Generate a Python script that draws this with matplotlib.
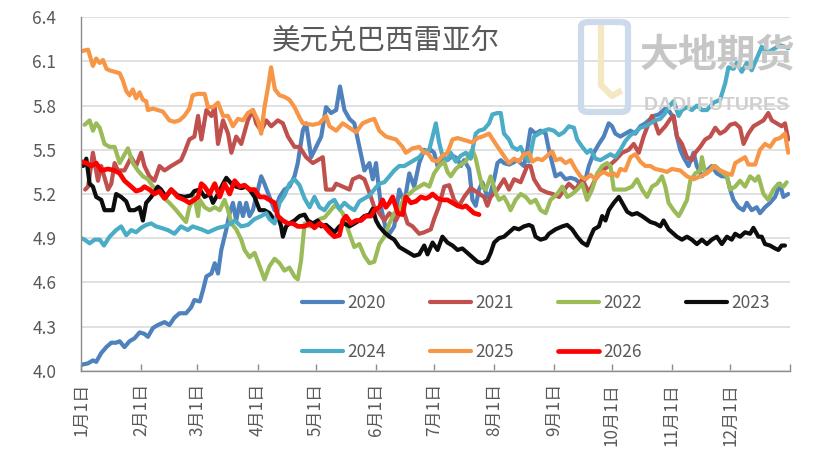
import matplotlib
matplotlib.use("Agg")
import matplotlib.pyplot as plt
from matplotlib.lines import Line2D
from matplotlib.patches import FancyBboxPatch

plt.rcParams['font.family'] = ['Noto Sans CJK SC', 'DejaVu Sans']

# ---------------- data (day of year, USD/BRL) ----------------
years = ['2020', '2021', '2022', '2023', '2024', '2025', '2026']
colors = ['#4F81BD', '#C0504D', '#9BBB59', '#0D0D0D', '#4BACC6', '#F79646', '#FF0000']

d2020 = [0, 3.5, 6, 7.7, 10.3, 12.9, 15.5, 18, 19.8, 22.3, 24.9, 27.5, 30.1, 32.6, 34.4, 37, 39.5, 43, 45.5, 48.1,
         50.7, 54.1, 56.7, 58.4, 61.2, 62.9, 64.6, 67.2, 68.9, 70.6, 72.3, 74.9, 76.6, 78.3, 80, 81.8, 83.5, 85.2,
         86.9, 88.6, 90.3, 92.9, 94.6, 97.2, 99.8, 102.4, 104.9, 107.5, 110.1, 111.8, 114.4, 116.1, 118.7, 121.3,
         123.9, 126.4, 129, 131.6, 133.6, 135.9, 138.5, 141, 143.6, 146.2, 148.8, 150.5, 152.2, 154.8, 157.3, 159.1,
         161.6, 164.2, 166.8, 169.4, 171.9, 174.5, 177.1, 178.8, 180.5, 182.2, 184, 186.5, 189.1, 191.7, 194.3, 196,
         197.7, 200.3, 202, 203.7, 205.4, 207.1, 209.7, 211.4, 213.2, 214.9, 216.6, 218.3, 220.9, 222.6, 225.2,
         228.6, 230.3, 232, 234.6, 237.2, 239.8, 241.5, 243.2, 244.9, 247.5, 250.1, 252.7, 255.2, 257.8, 260.4,
         262.1, 264.7, 267.3, 269.8, 272.4, 274.1, 275.8, 278.4, 281, 283.6, 286.1, 288.7, 291.3, 295.6, 298.2,
         300.7, 302.5, 304.2, 305.9, 307.6, 309.3, 311, 313.6, 316.2, 317.9, 320.5, 323.1, 325.6, 328.2, 330.8,
         333.4, 335.1, 336.8, 339.4, 341.9, 343.7, 346.2, 348.8, 350.5, 353.1, 355.7, 358.3, 360.8, 362.6, 365.1]
v2020 = [4.04, 4.05, 4.07, 4.06, 4.12, 4.16, 4.19, 4.19, 4.20, 4.16, 4.20, 4.22, 4.26, 4.25, 4.23, 4.29, 4.31, 4.33,
         4.31, 4.36, 4.39, 4.39, 4.43, 4.48, 4.47, 4.55, 4.64, 4.66, 4.73, 4.66, 4.82, 4.96, 5.07, 5.14, 5.02, 5.14,
         5.05, 5.14, 5.05, 5.09, 5.18, 5.32, 5.27, 5.18, 5.09, 5.18, 5.23, 5.25, 5.32, 5.41, 5.63, 5.68, 5.45, 5.52,
         5.59, 5.79, 5.75, 5.77, 5.93, 5.77, 5.71, 5.68, 5.52, 5.36, 5.41, 5.30, 5.41, 5.11, 4.96, 4.93, 4.98, 5.23,
         5.14, 5.34, 5.25, 5.41, 5.50, 5.48, 5.50, 5.48, 5.39, 5.44, 5.43, 5.46, 5.44, 5.39, 5.43, 5.37, 5.16, 5.12,
         5.23, 5.28, 5.18, 5.21, 5.30, 5.41, 5.43, 5.41, 5.40, 5.41, 5.43, 5.39, 5.50, 5.64, 5.61, 5.63, 5.61, 5.50,
         5.41, 5.32, 5.34, 5.30, 5.31, 5.30, 5.27, 5.30, 5.39, 5.48, 5.54, 5.59, 5.68, 5.66, 5.61, 5.59, 5.61, 5.63,
         5.61, 5.66, 5.68, 5.73, 5.74, 5.77, 5.79, 5.75, 5.72, 5.59, 5.50, 5.45, 5.39, 5.48, 5.39, 5.32, 5.36, 5.39,
         5.34, 5.32, 5.32, 5.23, 5.16, 5.11, 5.09, 5.14, 5.09, 5.11, 5.07, 5.11, 5.14, 5.18, 5.27, 5.18, 5.20]

d2021 = [2, 3.5, 6, 8.6, 10.3, 13.8, 15.5, 17.2, 18.9, 22.3, 25.8, 28.3, 30.9, 32.6, 35.2, 37.8, 40.4, 43, 46.4, 49,
         51.5, 53.2, 55.8, 58.4, 60.3, 62, 64.6, 67.2, 68.9, 70.6, 73.2, 75.8, 77.5, 80, 82.6, 86, 88.6, 90.3, 92.9,
         95.5, 98.1, 101.5, 104.1, 106.7, 110.1, 112.7, 116.1, 119.6, 122.1, 124.7, 126.4, 129.9, 131.6, 135, 138.5,
         140.2, 143.6, 146.2, 148.8, 151.3, 153.9, 156.5, 159.1, 162.5, 165.9, 168.5, 171.1, 174.5, 177.1, 180.5,
         182.2, 184.8, 187.4, 190, 192.5, 195.1, 197.7, 201.1, 204.6, 208, 209.7, 211.4, 214.9, 218.3, 220.9, 223.5,
         226.9, 230.3, 232, 233.8, 237.2, 240.6, 243.5, 246.7, 251.8, 255.2, 258.7, 262.1, 265.5, 269, 272.4, 275.8,
         279.3, 282.7, 285.3, 287.9, 290.4, 293, 294.7, 296.4, 298.2, 301.6, 304.2, 305.9, 307.6, 310.2, 312.8,
         315.3, 317.1, 319.6, 322.2, 324.8, 327.4, 329.9, 332.5, 335.1, 337.7, 340.2, 342, 344.5, 347.1, 349.7,
         352.3, 354.8, 356.6, 359.1, 361.7, 363.4, 365.1]
v2021 = [5.23, 5.25, 5.48, 5.29, 5.39, 5.23, 5.27, 5.41, 5.36, 5.36, 5.45, 5.39, 5.48, 5.39, 5.32, 5.29, 5.39, 5.36,
         5.39, 5.41, 5.43, 5.48, 5.57, 5.59, 5.73, 5.57, 5.77, 5.73, 5.79, 5.54, 5.70, 5.61, 5.48, 5.59, 5.54, 5.70,
         5.77, 5.68, 5.63, 5.70, 5.66, 5.70, 5.68, 5.59, 5.52, 5.52, 5.45, 5.41, 5.43, 5.45, 5.23, 5.23, 5.27, 5.25,
         5.23, 5.30, 5.32, 5.30, 5.21, 5.11, 5.07, 5.02, 5.07, 5.02, 5.11, 5.00, 4.98, 4.93, 4.94, 4.96, 5.03, 5.12,
         5.25, 5.26, 5.16, 5.12, 5.18, 5.24, 5.21, 5.18, 5.12, 5.18, 5.23, 5.30, 5.23, 5.30, 5.28, 5.39, 5.39, 5.30,
         5.23, 5.21, 5.20, 5.18, 5.27, 5.23, 5.30, 5.21, 5.30, 5.36, 5.39, 5.43, 5.48, 5.50, 5.54, 5.48, 5.59, 5.68,
         5.73, 5.68, 5.61, 5.66, 5.71, 5.73, 5.59, 5.54, 5.45, 5.43, 5.48, 5.52, 5.57, 5.59, 5.65, 5.61, 5.63, 5.67,
         5.68, 5.65, 5.54, 5.61, 5.66, 5.68, 5.70, 5.75, 5.70, 5.68, 5.66, 5.68, 5.57]

d2022 = [1.7, 4.3, 6, 7.7, 9.5, 12, 14.6, 17.2, 19.8, 21.5, 24.1, 26.6, 29.2, 31.8, 34.4, 37, 39.5, 42.1, 45.5, 49,
         51.5, 54.1, 55.8, 58.4, 60.3, 61.2, 63.7, 66.3, 68.9, 71.5, 74, 75.8, 77.5, 80, 82.6, 84.3, 86.9, 89.5, 92.1,
         94.6, 97.2, 99.8, 102.4, 104.9, 107.5, 110.1, 111.8, 113.5, 115.3, 117.9, 120.4, 123, 125.6, 128.2, 130.7,
         132.5, 135, 138.5, 141, 143.6, 146.2, 148.8, 151.3, 153.9, 156.5, 159.1, 161.6, 164.2, 166.8, 169.4, 171.9,
         174.5, 177.1, 179.7, 182.2, 184.8, 187.4, 189.1, 190.8, 193.4, 196, 198.6, 200.3, 202, 203.7, 205.4, 207.1,
         208.9, 211.4, 214, 215.7, 218.3, 220, 221.7, 224.3, 226.9, 229.5, 232, 234.6, 237.2, 239.8, 242.3, 245.8,
         248.4, 251, 253.5, 256.1, 258.7, 261.2, 263.8, 266.4, 269, 271.5, 273.3, 275, 277.6, 281, 284.4, 287, 289.6,
         292.2, 294.7, 297.3, 299.9, 301.6, 303.3, 305.9, 308.5, 310.2, 312.8, 314.5, 317.1, 319.6, 320.5, 322.2,
         324.8, 327.4, 329.9, 333.4, 335.1, 337.7, 340.2, 342.8, 345.4, 348, 349.7, 352.3, 354.8, 357.4, 360, 362.6,
         364.3]
v2022 = [5.67, 5.70, 5.63, 5.68, 5.65, 5.54, 5.52, 5.52, 5.41, 5.45, 5.51, 5.41, 5.36, 5.32, 5.30, 5.25, 5.23, 5.18,
         5.14, 5.09, 5.05, 5.01, 5.11, 5.18, 5.05, 5.16, 5.11, 5.09, 5.11, 5.09, 5.16, 5.09, 5.00, 4.96, 4.89, 4.82,
         4.77, 4.80, 4.71, 4.62, 4.71, 4.76, 4.73, 4.68, 4.70, 4.64, 4.62, 4.75, 5.00, 4.98, 5.00, 5.03, 5.04, 5.08,
         5.12, 5.11, 5.07, 4.93, 4.84, 4.86, 4.78, 4.73, 4.74, 4.86, 4.91, 5.00, 5.07, 5.09, 5.18, 5.20, 5.23, 5.25,
         5.27, 5.25, 5.34, 5.39, 5.42, 5.35, 5.32, 5.37, 5.40, 5.42, 5.47, 5.50, 5.44, 5.34, 5.25, 5.23, 5.32, 5.21,
         5.16, 5.18, 5.14, 5.09, 5.16, 5.20, 5.18, 5.14, 5.16, 5.09, 5.07, 5.16, 5.20, 5.25, 5.18, 5.20, 5.23, 5.27,
         5.16, 5.23, 5.34, 5.39, 5.41, 5.39, 5.23, 5.23, 5.23, 5.25, 5.30, 5.23, 5.18, 5.25, 5.27, 5.32, 5.25, 5.14,
         5.09, 5.05, 5.09, 5.16, 5.29, 5.34, 5.36, 5.45, 5.34, 5.36, 5.39, 5.36, 5.32, 5.23, 5.25, 5.29, 5.25, 5.32,
         5.29, 5.32, 5.20, 5.16, 5.23, 5.27, 5.25, 5.28]

d2023 = [0.9, 2.6, 4.3, 6, 7.7, 10.3, 12, 14.6, 16.3, 18, 20.6, 23.2, 24.9, 27.5, 30.1, 31.8, 33.5, 36.1, 39.5, 41.2,
         43.8, 46.4, 49.8, 53.2, 56.7, 58.4, 61.2, 63.7, 66.3, 68, 70.6, 73.2, 74.9, 77.5, 80, 82.6, 85.2, 86.9, 89.5,
         92.1, 94.6, 97.2, 99.8, 101.5, 103.2, 104.1, 105.8, 107.5, 110.1, 112.7, 115.3, 117, 119.6, 122.1, 123.9,
         126.4, 128.2, 130.7, 133.3, 135.9, 138.5, 141, 143.6, 146.2, 148.8, 150.5, 152.2, 153.9, 156.5, 159.1,
         161.6, 164.2, 166.8, 169.4, 171.9, 174.5, 177.1, 178.8, 181.4, 184, 186.5, 189.1, 191.7, 194.3, 196.8,
         199.4, 202, 204.6, 207.1, 209.7, 211.4, 213.2, 215.7, 218.3, 220.9, 223.5, 226, 228.6, 231.2, 232.9, 234.6,
         237.2, 239.8, 241.5, 244.9, 248.4, 250.9, 253.5, 256.1, 258.7, 261.2, 263, 264.7, 267.3, 269, 270.7, 272.4,
         275, 277.6, 279.3, 281.9, 284.4, 287, 289.6, 293.9, 296.4, 299, 300.7, 303.3, 305.9, 307.6, 310.2, 312.8,
         315.3, 317.9, 320.5, 323.1, 325.6, 328.2, 330.8, 333.4, 335.9, 337.7, 340.2, 342.8, 345.4, 347.1, 349.7,
         351.4, 353.1, 355.7, 358.3, 360, 361.7, 363.4]
v2023 = [5.39, 5.44, 5.27, 5.25, 5.18, 5.16, 5.09, 5.09, 5.09, 5.20, 5.18, 5.15, 5.09, 5.09, 5.11, 5.02, 5.14, 5.18,
         5.25, 5.23, 5.18, 5.23, 5.19, 5.18, 5.19, 5.22, 5.23, 5.18, 5.20, 5.14, 5.20, 5.27, 5.31, 5.27, 5.25, 5.24,
         5.25, 5.23, 5.18, 5.09, 5.09, 5.07, 5.02, 5.05, 4.98, 4.91, 4.98, 5.00, 5.02, 5.05, 5.06, 5.02, 5.00, 5.02,
         4.98, 4.99, 4.97, 4.94, 4.98, 5.00, 4.98, 5.00, 5.02, 5.05, 5.06, 5.10, 5.02, 4.98, 4.94, 4.91, 4.89, 4.84,
         4.82, 4.80, 4.78, 4.79, 4.85, 4.79, 4.87, 4.82, 4.91, 4.87, 4.85, 4.82, 4.83, 4.80, 4.77, 4.74, 4.73, 4.75,
         4.80, 4.87, 4.90, 4.91, 4.94, 4.97, 4.96, 4.98, 4.99, 4.98, 4.91, 4.89, 4.90, 4.93, 4.96, 4.98, 4.99, 4.96,
         4.91, 4.87, 4.85, 4.91, 4.96, 4.98, 5.05, 5.02, 5.09, 5.14, 5.18, 5.14, 5.08, 5.06, 5.07, 5.05, 5.01, 5.00,
         4.98, 5.02, 4.96, 4.93, 4.91, 4.89, 4.91, 4.89, 4.86, 4.89, 4.86, 4.89, 4.91, 4.86, 4.91, 4.89, 4.93, 4.91,
         4.94, 4.93, 4.97, 4.91, 4.91, 4.86, 4.85, 4.83, 4.82, 4.85, 4.85]

d2024 = [0, 1.7, 4.3, 6.9, 9.5, 11.7, 14.6, 18, 20.6, 23.2, 25.8, 28.3, 30.9, 33.5, 36.1, 38.6, 41.2, 44.7, 48.1, 51.5,
         55, 57.5, 62, 65.5, 70.6, 74, 77.5, 79.2, 82.6, 86, 89.5, 92.9, 95.5, 97.2, 99.8, 102.4, 104.9, 107.5, 110.1,
         112.7, 115.3, 117.9, 120.4, 123, 125.6, 128.2, 130.7, 133.3, 135.9, 138.5, 141, 143.6, 146.2, 148.8, 151.3,
         153.9, 156.5, 159.1, 161.6, 164.2, 166.8, 169.4, 171.9, 174.5, 177.1, 179.7, 181.4, 183.1, 184.8, 186.5,
         189.1, 190.8, 193.4, 196, 198.6, 201.1, 203.7, 205.4, 208, 210.6, 212.3, 214.9, 216.6, 218.3, 220.9, 222.6,
         225.2, 226.9, 228.6, 231.2, 233.8, 236.3, 238.9, 241.5, 244, 246.7, 249.2, 251.8, 254.4, 256.1, 258.7,
         261.2, 263, 265.5, 268.1, 270.7, 273.3, 275.8, 278.4, 281, 283.6, 286.1, 288.7, 291.3, 293.9, 296.4, 299,
         301.6, 303.3, 305.9, 308.5, 310.2, 312.8, 315.3, 317.9, 320.5, 323.1, 326.5, 329.9, 332.5, 334.2, 336.8,
         338.5, 341.1, 343.7, 346.2, 348.8, 351.4, 354, 355.7, 358.3, 360.8, 363.4, 365.1]
v2024 = [4.90, 4.89, 4.865, 4.89, 4.89, 4.85, 4.91, 4.955, 4.98, 4.92, 4.955, 4.94, 4.97, 4.99, 5.00, 4.98, 4.97, 4.955,
         4.93, 4.98, 4.955, 4.98, 4.96, 4.94, 4.97, 4.98, 5.00, 5.02, 4.98, 4.99, 5.03, 5.05, 5.07, 5.03, 5.00, 5.14,
         5.19, 5.27, 5.30, 5.26, 5.17, 5.11, 5.18, 5.11, 5.09, 5.14, 5.16, 5.10, 5.14, 5.11, 5.09, 5.15, 5.17, 5.19,
         5.23, 5.27, 5.28, 5.32, 5.36, 5.39, 5.39, 5.41, 5.43, 5.45, 5.49, 5.50, 5.59, 5.68, 5.55, 5.46, 5.43, 5.48,
         5.42, 5.46, 5.48, 5.44, 5.61, 5.63, 5.64, 5.68, 5.74, 5.75, 5.75, 5.61, 5.57, 5.52, 5.50, 5.52, 5.47, 5.42,
         5.59, 5.61, 5.63, 5.64, 5.63, 5.60, 5.62, 5.66, 5.65, 5.57, 5.52, 5.48, 5.50, 5.44, 5.43, 5.45, 5.47, 5.45,
         5.50, 5.56, 5.60, 5.62, 5.65, 5.66, 5.68, 5.70, 5.71, 5.75, 5.79, 5.83, 5.73, 5.77, 5.79, 5.77, 5.80, 5.77,
         5.77, 5.82, 5.84, 5.95, 6.06, 6.05, 6.09, 6.03, 6.09, 6.04, 6.12, 6.20, 6.16, 6.17, 6.19, 6.21, 6.20, 6.19]

d2025 = [0, 3.5, 6, 7.7, 9.5, 11.2, 13, 14.6, 17.2, 19.8, 21.5, 23.2, 24.9, 26.6, 28.3, 30.1, 31.8, 33.5, 34.4, 37,
         39.5, 42.1, 43.8, 45.5, 48.1, 50.7, 53.2, 55.8, 57.5, 60.1, 63.7, 65.4, 68, 70.6, 73.2, 75.8, 78.3, 80.9,
         83.5, 86, 88.6, 91.2, 92.9, 94.6, 96.5, 98, 100, 102.4, 104.9, 107.5, 110.1, 112.7, 114.4, 119.6, 123,
         126.4, 128.2, 131.6, 135, 138.5, 141.9, 145.3, 148.8, 151.3, 153.9, 157.3, 162.5, 165.9, 167.6, 171.1,
         174.5, 177.1, 178.8, 181.4, 184, 186.5, 189.1, 191.7, 194.3, 196.8, 199.4, 202, 204.6, 207.1, 210.6, 214,
         216.6, 219.2, 220.9, 223.5, 226, 228.6, 231.2, 232.9, 235.5, 238.1, 240.6, 243.2, 245, 247.5, 250.1, 252.7,
         255.2, 257.8, 260.4, 263, 265.5, 267.3, 269.8, 272.4, 275, 276.7, 278.4, 281, 283.6, 286.1, 288.7, 291.3,
         293.9, 296.4, 299.9, 302.5, 305, 309.3, 312.8, 316.2, 319.6, 323.1, 326.5, 329.9, 333.4, 335.9, 337.7,
         340.2, 342.8, 344.5, 348, 350.5, 353.1, 355.7, 358.3, 360.8, 363.4, 364.3, 365.1]
v2025 = [6.17, 6.18, 6.07, 6.12, 6.09, 6.11, 6.05, 6.04, 6.03, 6.02, 5.97, 5.90, 5.87, 5.91, 5.85, 5.89, 5.84, 5.83,
         5.77, 5.78, 5.77, 5.76, 5.73, 5.70, 5.69, 5.70, 5.73, 5.78, 5.87, 5.88, 5.88, 5.79, 5.79, 5.82, 5.73, 5.73,
         5.66, 5.71, 5.70, 5.75, 5.77, 5.70, 5.61, 5.79, 5.93, 6.06, 5.91, 5.87, 5.86, 5.84, 5.79, 5.72, 5.68, 5.67,
         5.68, 5.73, 5.66, 5.63, 5.68, 5.65, 5.62, 5.68, 5.70, 5.71, 5.63, 5.59, 5.57, 5.52, 5.48, 5.51, 5.52, 5.48,
         5.48, 5.43, 5.42, 5.46, 5.48, 5.57, 5.58, 5.57, 5.56, 5.55, 5.58, 5.59, 5.61, 5.54, 5.49, 5.44, 5.41, 5.44,
         5.42, 5.47, 5.48, 5.42, 5.44, 5.43, 5.46, 5.49, 5.43, 5.44, 5.41, 5.43, 5.37, 5.32, 5.30, 5.33, 5.30, 5.33,
         5.35, 5.33, 5.34, 5.32, 5.37, 5.36, 5.45, 5.47, 5.42, 5.39, 5.39, 5.37, 5.36, 5.35, 5.37, 5.36, 5.32, 5.30,
         5.32, 5.34, 5.39, 5.36, 5.34, 5.33, 5.41, 5.43, 5.45, 5.40, 5.40, 5.50, 5.54, 5.52, 5.57, 5.58, 5.61, 5.54,
         5.48]

d2026 = [0, 2.6, 5.2, 7.7, 10.3, 13.8, 17.2, 19.8, 22.3, 25.8, 28.3, 30.9, 32.6, 35.2, 37.8, 40.4, 43, 46.4, 49.8,
         53.2, 55.8, 58.4, 60.3, 62, 63.7, 66.3, 68.9, 71.5, 74, 76.6, 79.2, 81.8, 84.3, 86.9, 89.5, 92.1, 94.6,
         97.2, 99.8, 101.5, 104.1, 106.7, 109.3, 111.8, 115.3, 117.9, 120.4, 123, 125.6, 128.2, 130.7, 133.3, 135,
         136.7, 139.3, 141.9, 144.5, 147, 149.6, 151.3, 153.9, 155.6, 157.3, 159.1, 160.8, 163.4, 165.9, 167.6,
         170.2, 172.8, 175.4, 177.9, 179.7, 181.4, 184, 186.5, 189.1, 191.7, 194.3, 196.8, 198.6, 201.1, 202.8,
         205.4]
v2026 = [5.42, 5.41, 5.39, 5.41, 5.36, 5.37, 5.36, 5.34, 5.29, 5.25, 5.22, 5.23, 5.25, 5.23, 5.20, 5.22, 5.17, 5.23,
         5.18, 5.16, 5.14, 5.16, 5.18, 5.27, 5.25, 5.20, 5.27, 5.18, 5.27, 5.20, 5.29, 5.25, 5.26, 5.23, 5.23, 5.18,
         5.18, 5.16, 5.14, 5.05, 5.02, 5.00, 5.00, 4.98, 4.98, 5.00, 4.97, 5.00, 4.98, 4.94, 4.91, 4.92, 5.02, 5.05,
         5.00, 5.02, 5.02, 5.05, 5.05, 5.09, 5.11, 5.16, 5.11, 5.14, 5.18, 5.07, 5.06, 5.18, 5.14, 5.15, 5.18, 5.17,
         5.18, 5.20, 5.17, 5.16, 5.16, 5.14, 5.12, 5.11, 5.12, 5.09, 5.07, 5.06]

series_days = [d2020, d2021, d2022, d2023, d2024, d2025, d2026]
series_vals = [v2020, v2021, v2022, v2023, v2024, v2025, v2026]

month_starts = [0, 31, 60, 91, 121, 152, 182, 213, 244, 274, 305, 335, 366]
month_labels = ['1月1日', '2月1日', '3月1日', '4月1日', '5月1日', '6月1日', '7月1日',
                '8月1日', '9月1日', '10月1日', '11月1日', '12月1日', '']
y_ticks = [4.0, 4.3, 4.6, 4.9, 5.2, 5.5, 5.8, 6.1, 6.4]
title = '美元兑巴西雷亚尔'

# ---------------- figure ----------------
W, H = 815, 462
fig = plt.figure(figsize=(W / 100, H / 100), dpi=100)
ax = fig.add_axes([81.3 / W, 1 - 370.7 / H, (790 - 81.3) / W, (370.7 - 17.3) / H])

text_color = '#595959'


def fx(px):
    return px / W


def fy(py):
    return 1 - py / H


# watermark (behind the lines)
logo = FancyBboxPatch((fx(581), fy(112)), fx(628) - fx(581), fy(22) - fy(112),
                      boxstyle='round,pad=0,rounding_size=0.01', transform=fig.transFigure,
                      fill=False, edgecolor='#CCDAEB', linewidth=4.5, zorder=0)
fig.patches.append(logo)
fig.lines.append(Line2D([fx(601), fx(601), fx(612), fx(619)], [fy(28), fy(85), fy(96), fy(92)],
                        transform=fig.transFigure, color='#F3E8C2', linewidth=4.5, zorder=0))
fig.text(fx(717), fy(55), '大地期货', fontsize=28, fontweight='bold', color='#C6C6C6',
         ha='center', va='center', zorder=0)
fig.text(fx(717), fy(105), 'DADI FUTURES', fontsize=14, fontweight='bold', color='#D0D0D0',
         ha='center', va='center', family=['Liberation Sans', 'DejaVu Sans'], zorder=0)
ax.patch.set_alpha(0)

handles = []
for name, col, dd, vv in zip(years, colors, series_days, series_vals):
    lw = 3.4 if name == '2026' else 3.0
    h, = ax.plot(dd, vv, color=col, linewidth=lw, solid_joinstyle='round', solid_capstyle='round', label=name)
    handles.append(h)

ax.set_xlim(0, 366)
ax.set_ylim(4.0, 6.4)
ax.set_yticks(y_ticks)
ax.set_yticklabels([f'{t:.1f}' for t in y_ticks])
ax.set_xticks(month_starts)
ax.set_xticklabels(month_labels, rotation=90)

ax.grid(axis='y', color='#D9D9D9', linewidth=1.1)
ax.set_axisbelow(True)
for s in ['top', 'right']:
    ax.spines[s].set_visible(False)
for s in ['left', 'bottom']:
    ax.spines[s].set_color('#8C8C8C')
    ax.spines[s].set_linewidth(1.0)

ax.tick_params(axis='y', length=0, pad=18, labelsize=12.5, labelcolor=text_color)
ax.tick_params(axis='x', direction='in', length=5, width=1, color='#8C8C8C', pad=9,
               labelsize=12.3, labelcolor=text_color)

fig.text(fx(386), fy(40), title, fontsize=20.5, color=text_color, ha='center', va='center')

# legend, row-major order for 4 columns
order = [0, 4, 1, 5, 2, 6, 3]
leg = ax.legend([handles[i] for i in order], [years[i] for i in order], ncol=4, frameon=False,
                loc='upper left', bbox_to_anchor=(fx(302), fy(294)), bbox_transform=fig.transFigure,
                fontsize=12.5, handlelength=2.35, handletextpad=0.25, columnspacing=2.55,
                labelspacing=1.78, borderpad=0, borderaxespad=0)
for t in leg.get_texts():
    t.set_color(text_color)

fig.savefig('out.png', dpi=100)
